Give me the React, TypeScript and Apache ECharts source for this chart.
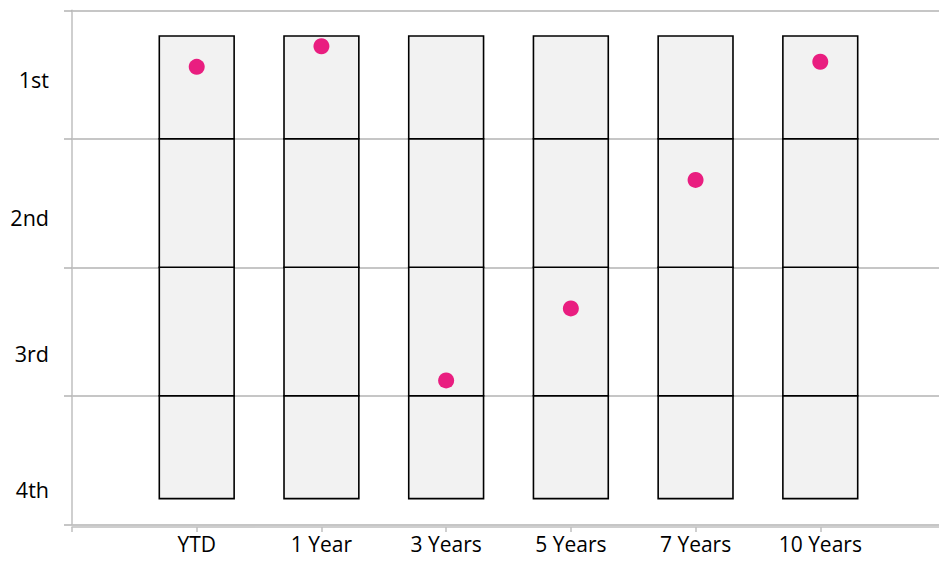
import React, { useEffect, useRef } from "react";
import * as echarts from "echarts";

const categories = ["YTD", "1 Year", "3 Years", "5 Years", "7 Years", "10 Years"];
const quartileLabels = ["4th", "3rd", "2nd", "1st"];
const quartileLabelPositions = [0.27, 1.33, 2.39, 3.46];
const boxSegments: [number, number][] = [
  [0.2, 1],
  [1, 2],
  [2, 3],
  [3, 3.8],
];
const rankValues = [3.56, 3.72, 1.12, 1.68, 2.68, 3.6];

const FONT = "'Open Sans'";

export default function App() {
  const ref = useRef<HTMLDivElement>(null);
  useEffect(() => {
    if (!ref.current) return;
    const chart = echarts.init(ref.current, null, { renderer: "svg" });
    const boxData: number[][] = [];
    categories.forEach((_, i) => {
      boxSegments.forEach(([lo, hi]) => boxData.push([i + 1, lo, hi]));
    });
    const scatterData = rankValues.map((v, i) => [i + 1, v]);
    chart.setOption({
      animation: false,
      backgroundColor: "#ffffff",
      grid: { left: 72, top: 10.3, bottom: 36.7, right: 0, containLabel: false },
      xAxis: {
        type: "value",
        min: 0,
        max: 7,
        interval: 1,
        offset: 2.7,
        axisLine: { show: true, onZero: false, lineStyle: { color: "#bfbfbf", width: 1.5 } },
        axisTick: { show: true, length: 5, lineStyle: { color: "#bfbfbf", width: 1.5 } },
        splitLine: { show: false },
        axisLabel: {
          margin: 7,
          fontFamily: FONT,
          fontSize: 21,
          lineHeight: 20,
          color: "#000000",
          formatter: (v: number) => categories[Math.round(v) - 1] ?? "",
        },
      },
      yAxis: {
        type: "value",
        min: 0,
        max: 4,
        interval: 1,
        axisLine: { show: true, lineStyle: { color: "#bfbfbf", width: 1.5 } },
        axisTick: { show: true, length: 8, lineStyle: { color: "#b3b3b3", width: 1.5 } },
        splitLine: { show: true, lineStyle: { color: "#b3b3b3", width: 1.5 } },
        axisLabel: {
          customValues: quartileLabelPositions,
          margin: 23,
          fontFamily: FONT,
          fontSize: 21.5,
          lineHeight: 22,
          color: "#000000",
          formatter: (v: number) => {
            let best = 0;
            quartileLabelPositions.forEach((p, i) => {
              if (Math.abs(p - v) < Math.abs(quartileLabelPositions[best] - v)) best = i;
            });
            return quartileLabels[best];
          },
        },
      },
      series: [
        {
          type: "custom",
          data: boxData,
          z: 2,
          renderItem: (params: any, api: any) => {
            const x = api.value(0);
            const lo = api.value(1);
            const hi = api.value(2);
            const p1 = api.coord([x - 0.3, hi]);
            const p2 = api.coord([x + 0.3, lo]);
            return {
              type: "rect",
              shape: { x: p1[0], y: p1[1], width: p2[0] - p1[0], height: p2[1] - p1[1] },
              style: { fill: "#f2f2f2", stroke: "#000000", lineWidth: 1.6 },
            };
          },
        },
        {
          type: "scatter",
          data: scatterData,
          z: 3,
          symbol: "circle",
          symbolSize: 16,
          itemStyle: { color: "#e91e80", opacity: 1 },
        },
      ],
    });
    return () => chart.dispose();
  }, []);
  return (
    <div
      style={{
        position: "fixed",
        left: 0,
        top: 0,
        width: 939,
        height: 561,
        overflow: "hidden",
        background: "#ffffff",
      }}
    >
      <div ref={ref} style={{ width: 948, height: 561 }} />
    </div>
  );
}
